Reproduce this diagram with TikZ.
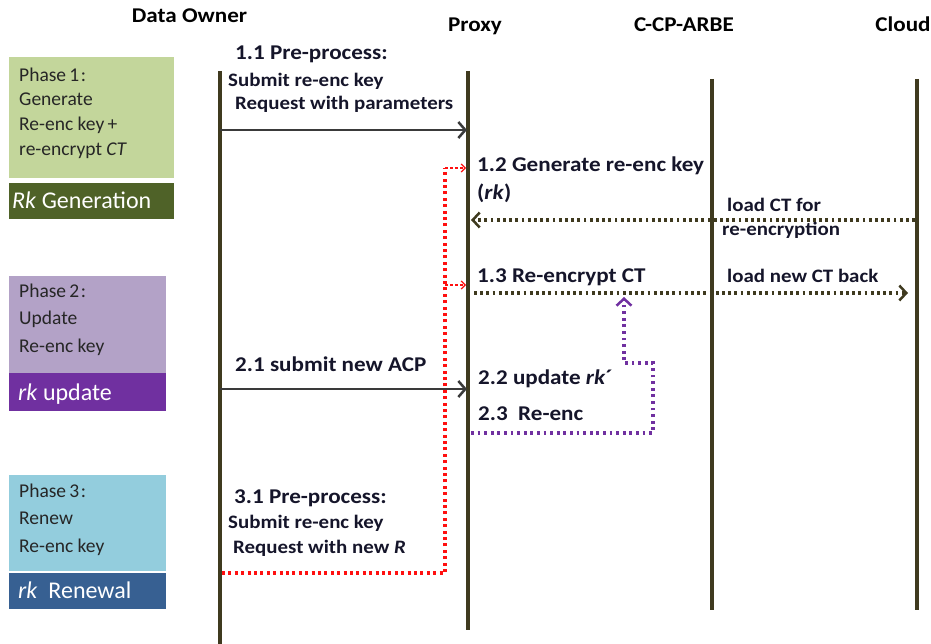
\documentclass[tikz,border=0pt]{standalone}
\usepackage{fontspec}
\setmainfont{Carlito}
\newfontfamily\lblfont[FakeStretch=1.1]{Carlito}
\usetikzlibrary{arrows.meta}
\definecolor{life}{HTML}{3F3A1F}
\definecolor{pgreen}{HTML}{C3D69B}
\definecolor{dgreen}{HTML}{4F6228}
\definecolor{ppurple}{HTML}{B3A2C7}
\definecolor{dpurple}{HTML}{7030A0}
\definecolor{pblue}{HTML}{93CDDD}
\definecolor{dblue}{HTML}{376092}
\definecolor{arrowgray}{HTML}{3A3A3A}
\definecolor{txt}{HTML}{15152A}
\definecolor{myred}{HTML}{FF1010}
\begin{document}
\begin{tikzpicture}[x=1pt,y=-1pt,
 lifeline/.style={line width=4pt, draw=life},
 hdr/.style={font=\lblfont\fontsize{21}{24}\selectfont\bfseries, anchor=base, inner sep=0, text=black},
 lbl/.style={font=\lblfont\fontsize{21}{24}\selectfont\bfseries, anchor=base west, inner sep=0, text=txt},
 sublbl/.style={font=\lblfont\fontsize{19}{22}\selectfont\bfseries, anchor=base west, inner sep=0, text=txt},
 ptxt/.style={font=\fontsize{19.5}{25}\selectfont, anchor=base west, inner sep=0, text=black!85},
 wtxt/.style={font=\fontsize{24}{28}\selectfont, anchor=base west, inner sep=0, text=white},
 phasebox/.style={anchor=north west, inner sep=0, outer sep=0, draw=none},
 solidarrow/.style={draw=arrowgray, line width=2.7pt, -{Straight Barb[length=7pt,width=16pt,line width=2.5pt]}},
 dotarrow/.style={draw=life, line width=3.2pt, dash pattern=on 2.8pt off 3.4pt, -{Straight Barb[length=7pt,width=15pt,line width=2.5pt]}},
 reddot/.style={draw=myred, line width=3.2pt, dash pattern=on 3pt off 3.4pt},
 redsmall/.style={draw=myred, line width=1.2pt, dash pattern=on 3pt off 2pt, -{Straight Barb[length=4pt,width=8pt,line width=1.2pt]}},
 purpledot/.style={draw=dpurple, line width=3.2pt, dash pattern=on 2.8pt off 3.8pt, -{Straight Barb[length=7pt,width=15pt,line width=2.5pt]}},
]
\useasboundingbox (0,0) rectangle (931,644);

% headers
\node[hdr] (hdo) at (189.5,23) {Data Owner};
\node[hdr] (hpx) at (475,32) {Proxy};
\node[hdr] (hcp) at (684,32) {C-CP-ARBE};
\node[hdr] (hcl) at (903,32) {Cloud};

% lifelines
\coordinate (doT) at (220,71); \coordinate (doB) at (220,644);
\coordinate (pxT) at (468,71); \coordinate (pxB) at (468,630);
\coordinate (cpT) at (712,79); \coordinate (cpB) at (712,610);
\coordinate (clT) at (917,79); \coordinate (clB) at (917,610);
\draw[lifeline] (doT) -- (doB);
\draw[lifeline] (pxT) -- (pxB);
\draw[lifeline] (cpT) -- (cpB);
\draw[lifeline] (clT) -- (clB);

% phase boxes
\node[phasebox, fill=pgreen, minimum width=165pt, minimum height=121pt] (ph1) at (9,57) {};
\node[phasebox, fill=dgreen, minimum width=165pt, minimum height=36pt] (rk1) at (9,183) {};
\node[phasebox, fill=ppurple, minimum width=157pt, minimum height=97pt] (ph2) at (9,276) {};
\node[phasebox, fill=dpurple, minimum width=157pt, minimum height=38pt] (rk2) at (9,373) {};
\node[phasebox, fill=pblue, minimum width=157pt, minimum height=96pt] (ph3) at (9,475) {};
\node[phasebox, fill=dblue, minimum width=157pt, minimum height=36pt] (rk3) at (9,573) {};

\node[ptxt] (t1a) at (19,82) {Phase\,1\hspace{1.5pt}:};
\node[ptxt] (t1b) at (19,106) {Generate};
\node[ptxt] (t1c) at (19,131) {Re-enc key\,+};
\node[ptxt] (t1d) at (19,156) {re-encrypt \textit{CT}};
\node[wtxt] (t1e) at (12,209) {\textit{Rk} Generation};

\node[ptxt] (t2a) at (19,298) {Phase\,2\hspace{1.5pt}:};
\node[ptxt] (t2b) at (19,324) {Update};
\node[ptxt] (t2c) at (19,352) {Re-enc key};
\node[wtxt] (t2d) at (18,400) {\textit{rk} update};

\node[ptxt] (t3a) at (19,497) {Phase\,3\hspace{1.5pt}:};
\node[ptxt] (t3b) at (19,524) {Renew};
\node[ptxt] (t3c) at (19,552) {Re-enc key};
\node[wtxt] (t3d) at (18,598) {\textit{rk}\ \ Renewal};

% step 1.1
\node[lbl] (l11a) at (235,60) {1.1 Pre-process:};
\node[sublbl] (l11b) at (228,87) {Submit re-enc key};
\node[sublbl] (l11c) at (235,110) {Request with parameters};
\coordinate (a11s) at (220,130); \coordinate (a11e) at (467,130);
\draw[solidarrow] (a11s) -- (a11e);

% red dotted path (phase 3 renewal)
\coordinate (rB) at (222,573); \coordinate (rC) at (445,573);
\coordinate (rT) at (445,168); \coordinate (rM) at (445,285);
\coordinate (rTe) at (466,168); \coordinate (rMe) at (466,285);
\draw[reddot] (rB) -- (rC) -- (rT);
\draw[redsmall] (rT) -- (rTe);
\draw[redsmall] (rM) -- (rMe);

% step 1.2
\node[lbl] (l12a) at (477,172) {1.2 Generate re-enc key};
\node[lbl] (l12b) at (477,200) {(\textit{rk})};
\node[sublbl] (lca) at (727,212) {load CT for};
\node[sublbl] (lcb) at (722,236) {re-encryption};
\coordinate (a12s) at (915,220); \coordinate (a12e) at (471,220);
\draw[dotarrow] (a12s) -- (a12e);

% step 1.3
\node[lbl] (l13) at (477,283) {1.3 Re-encrypt CT};
\node[sublbl] (lnb) at (727,283) {load new CT back};
\coordinate (a13s) at (474,293); \coordinate (a13e) at (908,293);
\draw[dotarrow] (a13s) -- (a13e);

% step 2.1
\node[lbl] (l21) at (235,371) {2.1 submit new ACP};
\coordinate (a21s) at (220,389); \coordinate (a21e) at (467,389);
\draw[solidarrow] (a21s) -- (a21e);

% step 2.2 / 2.3
\node[lbl] (l22) at (478,384) {2.2 update \textit{rk}´};
\node[lbl] (l23) at (478,420) {2.3\ \ Re-enc};
\coordinate (pS) at (471,433); \coordinate (pA) at (653,433);
\coordinate (pB) at (653,363); \coordinate (pC) at (624,363);
\coordinate (pE) at (624,297);
\draw[purpledot] (pS) -- (pA) -- (pB) -- (pC) -- (pE);

% step 3.1
\node[lbl] (l31a) at (234,503) {3.1 Pre-process:};
\node[sublbl] (l31b) at (228,528) {Submit re-enc key};
\node[sublbl] (l31c) at (233,553) {Request with new \textit{R}};
\end{tikzpicture}
\end{document}
